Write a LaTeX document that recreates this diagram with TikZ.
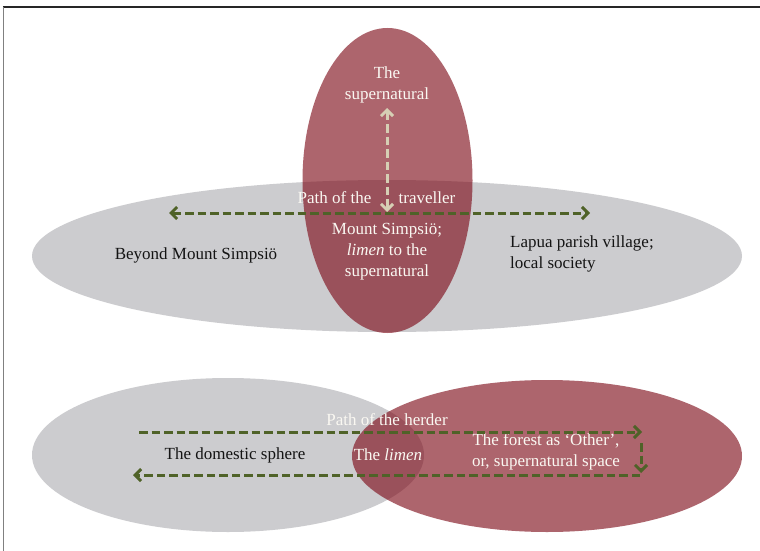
\documentclass[tikz,border=0pt]{standalone}
\usepackage{fontspec}
\setmainfont{Liberation Serif}
\usetikzlibrary{arrows.meta,shapes.geometric}
\definecolor{redfill}{RGB}{124,7,20}
\definecolor{grayfill}{RGB}{204,204,207}
\definecolor{olivearrow}{RGB}{79,98,40}
\definecolor{tanarrow}{RGB}{214,207,180}
\definecolor{lighttext}{RGB}{250,248,242}
\definecolor{darktext}{RGB}{20,20,20}
\begin{document}
\begin{tikzpicture}[x=1pt,y=-1pt,
  >={Straight Barb[length=6pt, width=12pt]},
  txt/.style={font=\fontsize{17}{21}\selectfont, inner sep=0pt, align=center},
  wtxt/.style={txt, text=lighttext},
  btxt/.style={txt, text=darktext},
  grayell/.style={ellipse, fill=grayfill, inner sep=0pt},
  redell/.style={ellipse, fill=redfill, fill opacity=0.62, inner sep=0pt},
  pathline/.style={draw=olivearrow, line width=3pt, dash pattern=on 8.5pt off 4pt}
]
\useasboundingbox (0,0) rectangle (760,551);
\fill[white] (0,0) rectangle (760,551);
\draw[line width=1.4pt, black!85] (2.8,7) -- (760,7);
\draw[line width=1.4pt, gray] (3.5,7) -- (3.5,551);

% top diagram
\node[grayell, minimum width=710pt, minimum height=152pt] (world) at (387,256) {};
\node[redell, minimum width=170pt, minimum height=305pt] (super) at (387.5,180.5) {};

% bottom diagram
\node[grayell, minimum width=392pt, minimum height=154pt] (domestic) at (228,455) {};
\node[redell, minimum width=390pt, minimum height=152pt] (forest) at (547,456) {};

% texts
\node[wtxt] (tsup) at (387,85) {The\\supernatural};
\node[wtxt] (tpath) at (334.5,198) {Path of the};
\node[wtxt] (ttrav) at (427,198) {traveller};
\node[wtxt] (tmount) at (387,252) {Mount Simpsiö;\\\textit{limen} to the\\supernatural};
\node[btxt] (tbeyond) at (196,255) {Beyond Mount Simpsiö};
\node[btxt, align=left, anchor=west] (tlapua) at (510,253.5) {Lapua parish village;\\local society};
\node[wtxt] (therder) at (387,420) {Path of the herder};
\node[btxt] (tdom) at (235,455) {The domestic sphere};
\node[wtxt] (tlimen) at (388,455) {The \textit{limen}};
\node[wtxt] (tforest) at (546,452) {The forest as ‘Other’,\\or, supernatural space};

% arrow end points
\coordinate (tl) at (169,213);
\coordinate (tr) at (590,213);
\coordinate (vt) at (387,108);
\coordinate (vb) at (387,212);
\coordinate (h1) at (139,432);
\coordinate (h2) at (642,432);
\coordinate (h3) at (641,443);
\coordinate (h4) at (641,473);
\coordinate (h5) at (640,475);
\coordinate (h6) at (133,475);

\draw[pathline, draw=tanarrow, <->] (vt) -- (vb);
\draw[pathline, <->] (tl) -- (tr);
\draw[pathline, ->] (h1) -- (h2);
\draw[pathline, ->] (h3) -- (h4);
\draw[pathline, ->] (h5) -- (h6);
\end{tikzpicture}
\end{document}
